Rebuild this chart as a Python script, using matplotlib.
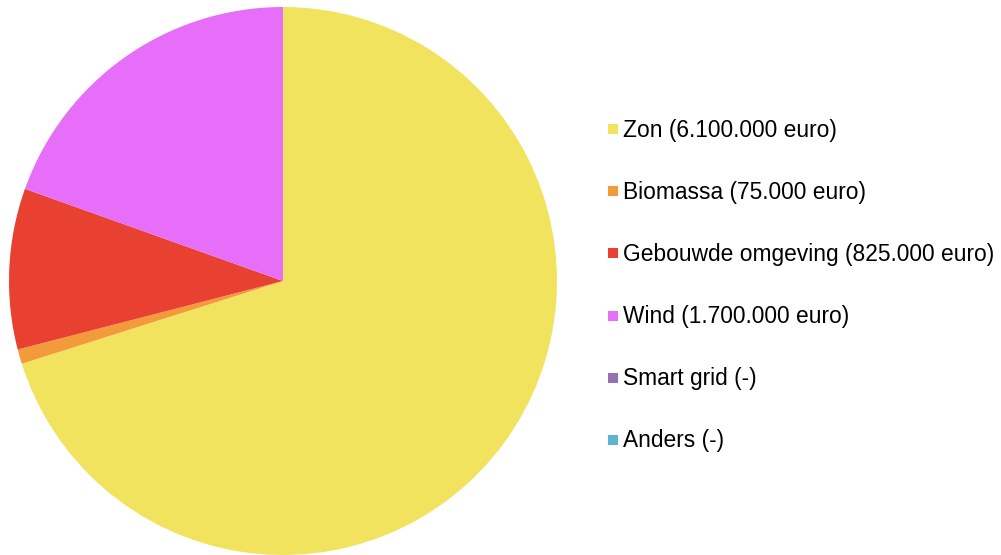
import matplotlib
matplotlib.use('Agg')
import matplotlib.pyplot as plt
from matplotlib.patches import Rectangle

categories = ['Zon', 'Biomassa', 'Gebouwde omgeving', 'Wind', 'Smart grid', 'Anders']
amounts = [6100000, 75000, 825000, 1700000, 0, 0]
amount_labels = ['6.100.000 euro', '75.000 euro', '825.000 euro', '1.700.000 euro', '-', '-']
colors = ['#F2E35E', '#F39A3B', '#E84132', '#E76EF9', '#9272B0', '#5BB5CE']

plt.rcParams['font.family'] = ['Liberation Sans', 'DejaVu Sans']

fig = plt.figure(figsize=(10.01, 5.55), dpi=100)
W, H = 1001, 555

# pie axes: centre ~ (283, 281) px, radius ~ 274 px
ax = fig.add_axes([9 / W, 0 / H, 548 / W, 548 / H])
ax.pie(amounts, colors=colors, startangle=90, counterclock=False,
       wedgeprops=dict(linewidth=0, antialiased=True))
ax.set_aspect('equal')
ax.set_xlim(-1, 1)
ax.set_ylim(-1, 1)
ax.axis('off')

# legend, drawn by hand so spacing matches
y0, step = 129, 62.2
for i, (cat, lab, col) in enumerate(zip(categories, amount_labels, colors)):
    y = y0 + i * step
    fig.patches.append(Rectangle((608 / W, 1 - (y + 5) / H), 10 / W, 10 / H,
                                 transform=fig.transFigure, facecolor=col,
                                 edgecolor='none'))
    fig.text(623 / W, 1 - (y + 1) / H, '%s (%s)' % (cat, lab), fontsize=16.4,
             va='center', ha='left', color='#000000')

fig.savefig('out.png', dpi=100)
